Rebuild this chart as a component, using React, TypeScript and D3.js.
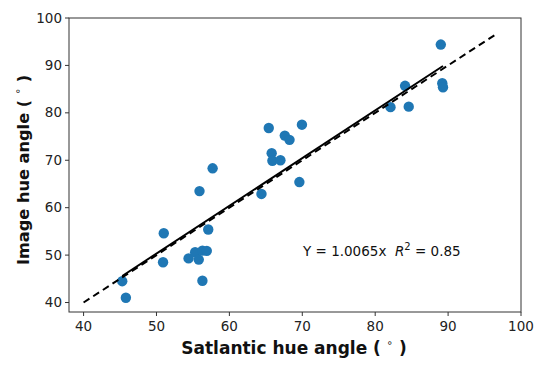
import React from "react";
import * as d3 from "d3";

const satlantic = [45.3, 45.8, 51.0, 50.9, 54.4, 55.3, 55.8, 56.3, 56.9, 57.1, 56.3, 57.7, 55.9, 64.4, 65.8, 65.9, 67.0, 69.6, 65.4, 69.95, 67.6, 68.25, 89.0, 84.1, 82.1, 84.6, 89.2, 89.3];
const image = [44.5, 41.0, 54.6, 48.5, 49.3, 50.6, 49.05, 50.95, 50.9, 55.4, 44.6, 68.3, 63.5, 62.9, 71.5, 69.9, 70.0, 65.4, 76.8, 77.5, 75.2, 74.3, 94.4, 85.7, 81.2, 81.3, 86.25, 85.4];
const slope = 1.0065;
const fitX = [45.3, 89.3];
const identityX = [40, 96.8];
const xTicks = [40, 50, 60, 70, 80, 90, 100];
const yTicks = [40, 50, 60, 70, 80, 90, 100];

const W = 550, H = 366;
const m = { l: 69, r: 521, t: 18, b: 312 };

export default function App() {
  const x = d3.scaleLinear().domain([38, 100]).range([m.l, m.r]);
  const yS = d3.scaleLinear().domain([38, 100]).range([m.b, m.t]);
  const line = d3.line<[number, number]>().x(d => x(d[0])).y(d => yS(d[1]));
  const fit = line(fitX.map(v => [v, v * slope] as [number, number]));
  const ident = line(identityX.map(v => [v, v] as [number, number]));
  const font = "DejaVu Sans, sans-serif";
  const sp = "\u00a0";
  return (
    <svg width={W} height={H} style={{ position: "absolute", left: 0, top: 0 }} fontFamily={font}>
      <rect width={W} height={H} fill="#fff" />
      {satlantic.map((v, i) => (
        <circle key={i} cx={x(v)} cy={yS(image[i])} r={5.2} fill="#1f77b4" />
      ))}
      <path d={fit!} stroke="#000" strokeWidth={2} fill="none" />
      <path d={ident!} stroke="#000" strokeWidth={2} fill="none" strokeDasharray="7,4.5" />
      <rect x={m.l} y={m.t} width={m.r - m.l} height={m.b - m.t} fill="none" stroke="#333" strokeWidth={1} />
      {xTicks.map(t => (
        <g key={"x" + t}>
          <line x1={x(t)} x2={x(t)} y1={m.b} y2={m.b + 4} stroke="#333" />
          <text x={x(t)} y={m.b + 19} textAnchor="middle" fontSize={13.5} fill="#222">{t}</text>
        </g>
      ))}
      {yTicks.map(t => (
        <g key={"y" + t}>
          <line x1={m.l - 4} x2={m.l} y1={yS(t)} y2={yS(t)} stroke="#333" />
          <text x={m.l - 7} y={yS(t) + 4.5} textAnchor="end" fontSize={13.5} fill="#222">{t}</text>
        </g>
      ))}
      <text x={294} y={354} textAnchor="middle" fontSize={17} fontWeight="bold" fill="#111">
        {"Satlantic hue angle (" + sp}<tspan fontSize={10} fontWeight="normal" dy={-8}>∘</tspan><tspan dy={8}>{sp + ")"}</tspan>
      </text>
      <text transform={`translate(29,170) rotate(-90)`} textAnchor="middle" fontSize={16.2} fontWeight="bold" fill="#111">
        {"Image hue angle (" + sp}<tspan fontSize={10} fontWeight="normal" dy={-8}>∘</tspan><tspan dy={8}>{sp + ")"}</tspan>
      </text>
      <text x={303} y={256} fontSize={13.5} fill="#111">
        {"Y = 1.0065x" + sp + sp}<tspan fontStyle="italic">R</tspan><tspan fontSize={10} dy={-6}>2</tspan><tspan dy={6}>{" = 0.85"}</tspan>
      </text>
    </svg>
  );
}
